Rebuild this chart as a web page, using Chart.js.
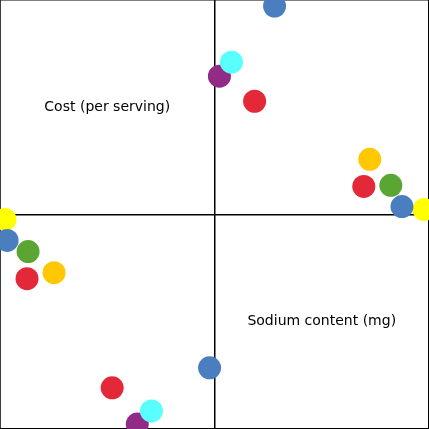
<!DOCTYPE html>
<html>
<head>
<meta charset="utf-8">
<script src="https://cdn.jsdelivr.net/npm/chart.js@4/dist/chart.umd.min.js"></script>
<style>
    html, body { margin: 0; padding: 0; background: #fff; }
    canvas { display: block; }
</style>
</head>
<body>
<canvas id="quadChart" width="429" height="429"></canvas>
<script>
// Quadrant labels
const quadrantLabels = ['Cost (per serving)', 'Sodium content (mg)'];
const labelX = [-50, 50];
const labelY = [50, -50];

// Series (one per colour) - x, y in -100..100
const blueX   = [28.0, 87.4, -96.7, -2.3];
const blueY   = [97.2, 3.7, -12.1, -71.5];
const cyanX   = [7.9, -29.4];
const cyanY   = [71.0, -91.6];
const purpleX = [2.3, -36.0];
const purpleY = [64.5, -97.7];
const redX    = [18.7, 69.6, -87.4, -47.7];
const redY    = [52.8, 13.1, -29.9, -80.8];
const orangeX = [72.4, -74.8];
const orangeY = [25.7, -27.1];
const greenX  = [82.2, -86.9];
const greenY  = [13.6, -17.3];
const yellowX = [97.7, -97.7];
const yellowY = [2.3, -2.3];

function pts(xs, ys) {
    return xs.map((x, i) => ({ x: x, y: ys[i] }));
}

function series(label, xs, ys, color) {
    return {
        label: label,
        data: pts(xs, ys),
        backgroundColor: color,
        borderWidth: 0,
        pointRadius: 11.5,
        pointHoverRadius: 11.5,
        clip: false
    };
}

// Draw the two quadrant captions at data positions
const quadrantText = {
    id: 'quadrantText',
    afterDatasetsDraw(chart) {
        const ctx = chart.ctx;
        const xs = chart.scales.x, ys = chart.scales.y;
        ctx.save();
        ctx.fillStyle = '#000';
        ctx.font = '14px "DejaVu Sans", Verdana, sans-serif';
        ctx.textAlign = 'center';
        ctx.textBaseline = 'middle';
        quadrantLabels.forEach((t, i) => {
            ctx.fillText(t, xs.getPixelForValue(labelX[i]), ys.getPixelForValue(labelY[i]));
        });
        ctx.restore();
    }
};

const axisOpts = {
    type: 'linear',
    min: -100,
    max: 100,
    ticks: { display: false, stepSize: 100 },
    grid: { color: '#000', lineWidth: 1.5, drawTicks: false },
    border: { display: true, color: '#000', width: 1.5 }
};

new Chart(document.getElementById('quadChart'), {
    type: 'scatter',
    data: {
        datasets: [
            series('Blue', blueX, blueY, '#4a7ebf'),
            series('Cyan', cyanX, cyanY, '#59fffd'),
            series('Purple', purpleX, purpleY, '#922b86'),
            series('Red', redX, redY, '#e32838'),
            series('Orange', orangeX, orangeY, '#ffc800'),
            series('Green', greenX, greenY, '#5ba532'),
            series('Yellow', yellowX, yellowY, '#ffff00')
        ]
    },
    options: {
        responsive: false,
        animation: false,
        layout: { padding: 0, autoPadding: false },
        plugins: {
            legend: { display: false },
            tooltip: { enabled: false }
        },
        scales: {
            x: axisOpts,
            y: axisOpts
        }
    },
    plugins: [quadrantText]
});
</script>
</body>
</html>
